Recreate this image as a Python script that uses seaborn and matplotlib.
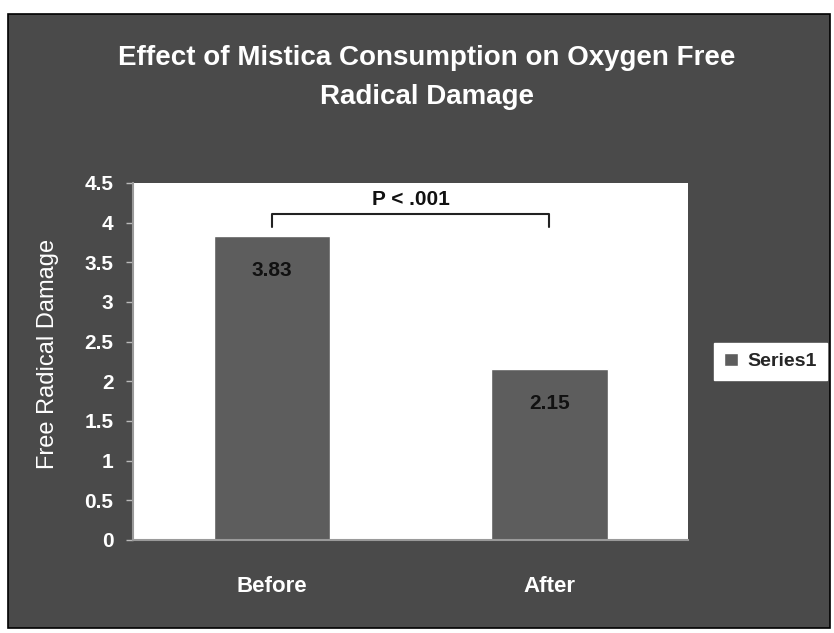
import pandas as pd
import matplotlib.pyplot as plt
import seaborn as sns
from matplotlib.patches import Rectangle

# data
categories = ["Before", "After"]
values = [3.83, 2.15]
series_name = "Series1"
p_text = "P < .001"

sns.set_theme(style="white")
plt.rcParams['font.family'] = ['Liberation Sans Narrow', 'Liberation Sans', 'DejaVu Sans']

bg = "#4a4a4a"
bar_color = "#5d5d5d"

fig = plt.figure(figsize=(8.34, 6.33), dpi=100)
fig.patch.set_facecolor("white")
# dark frame behind the chart
fig.patches.append(Rectangle((0.010, 0.008), 0.985, 0.970, transform=fig.transFigure,
                             facecolor=bg, edgecolor="black", linewidth=1.2, zorder=-5))

ax = fig.add_axes([0.1595, 0.147, 0.6655, 0.564])
ax.set_zorder(2)
ax.set_facecolor("white")

df = pd.DataFrame({"period": categories, "value": values})
sns.barplot(data=df, x="period", y="value", color=bar_color, width=0.42,
            saturation=1, ax=ax, label=series_name)

ax.set_xlim(-0.5, 1.5)
ax.set_ylim(0, 4.5)
ax.set_yticks([0, 0.5, 1, 1.5, 2, 2.5, 3, 3.5, 4, 4.5])
ax.set_yticklabels(["0", "0.5", "1", "1.5", "2", "2.5", "3", "3.5", "4", "4.5"])
ax.tick_params(axis="y", which="both", left=True, length=5, width=1, color="#bbbbbb",
               labelsize=15, labelcolor="white", pad=9)
ax.tick_params(axis="x", length=0, labelsize=16, labelcolor="white", pad=26)
for lab in ax.get_xticklabels() + ax.get_yticklabels():
    lab.set_fontweight("bold")

for side in ["top", "right"]:
    ax.spines[side].set_visible(False)
for side in ["left", "bottom"]:
    ax.spines[side].set_color("#9a9a9a")
    ax.spines[side].set_linewidth(1.5)

ax.set_xlabel("")
ax.set_ylabel("Free Radical Damage", color="white", fontsize=17)
ax.yaxis.set_label_coords(-0.133, 0.52)

# value labels inside the top of the bars
for i, v in enumerate(values):
    ax.text(i, v - 0.43, f"{v:.2f}", ha="center", va="center",
            fontsize=15, fontweight="bold", color="#111111")

# significance bracket
y_top = 4.11
y_end = 3.94
ax.plot([0, 0, 1, 1], [y_end, y_top, y_top, y_end], color="#222222", lw=1.5,
        clip_on=False)
ax.text(0.5, y_top + 0.06, p_text, ha="center", va="bottom", fontsize=15,
        fontweight="bold", color="#111111")

fig.text(0.512, 0.877, "Effect of Mistica Consumption on Oxygen Free\nRadical Damage",
         ha="center", va="center", fontsize=20, fontweight="bold", color="white",
         linespacing=1.65)

leg = ax.legend(loc="center left", bbox_to_anchor=(1.037, 0.5), frameon=True,
                fancybox=False, facecolor="white", edgecolor="white", framealpha=1,
                handlelength=0.7, handleheight=0.7, handletextpad=0.5,
                borderpad=0.5, borderaxespad=0.3, prop={"size": 14, "weight": "bold"})
leg.get_frame().set_linewidth(1)

plt.savefig("out.png", dpi=100)
